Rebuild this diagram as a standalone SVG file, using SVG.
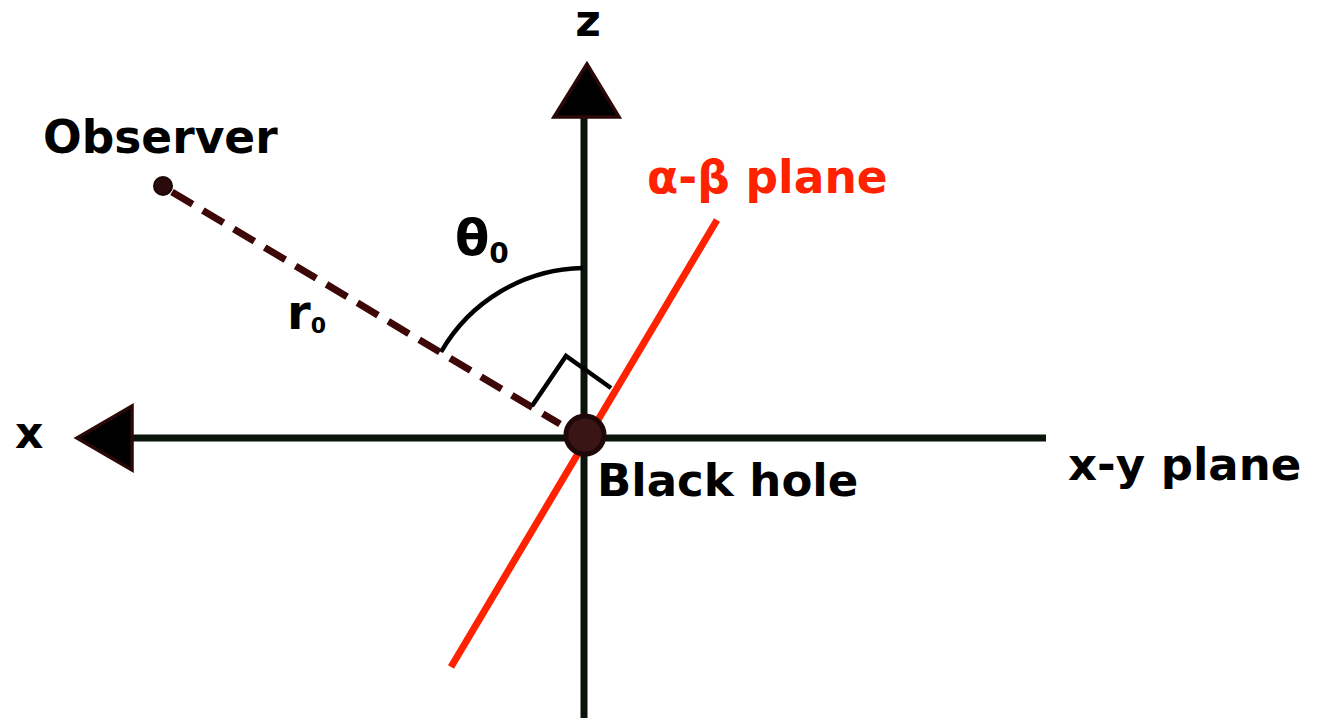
<svg xmlns="http://www.w3.org/2000/svg" width="1322" height="721" viewBox="0 0 1322 721">
<style>
.t{font-family:"DejaVu Sans",sans-serif;font-weight:bold;fill:#000}
.ax{stroke:#0b140b;stroke-width:7;fill:none}
.ah{fill:#000;stroke:#2a0808;stroke-width:3.5;stroke-linejoin:miter}
</style>
<rect width="1322" height="721" fill="#fff"/>
<g id="connectors">
<line class="ax" x1="584" y1="718" x2="584" y2="115"/>
<polygon class="ah" points="587,64 554,117 619,117"/>
<line class="ax" x1="1046" y1="438" x2="130" y2="438"/>
<polygon class="ah" points="77,438 132,406 132,470"/>
<line x1="451" y1="667" x2="717" y2="220" stroke="#ff2200" stroke-width="7"/>
<line x1="172" y1="192" x2="560" y2="424" stroke="#3d0707" stroke-width="7" stroke-dasharray="24,12"/>
<path d="M441,352 A167,167 0 0 1 583,268" fill="none" stroke="#000" stroke-width="4.5"/>
<polyline points="532,406 566,356 611,388" fill="none" stroke="#000" stroke-width="4.5"/>
</g>
<g id="observer">
<circle cx="163" cy="186" r="9" fill="#2a0a0a" stroke="#1a0505" stroke-width="2"/>
<text class="t" x="43" y="153" font-size="45.5">Observer</text>
</g>
<g id="blackhole">
<circle cx="585" cy="435" r="19" fill="#3a1515" stroke="#200808" stroke-width="5"/>
<text class="t" x="597" y="496" font-size="45">Black hole</text>
</g>
<g id="labels">
<text class="t" x="588" y="36" font-size="44" text-anchor="middle">z</text>
<text class="t" x="15" y="448" font-size="44">x</text>
<text class="t" x="1068" y="480" font-size="45">x-y plane</text>
<text class="t" x="647" y="193" font-size="45.5" style="fill:#ff2200">α-β plane</text>
<text class="t" x="455" y="255" font-size="50">θ<tspan font-size="28" dy="8">0</tspan></text>
<text class="t" x="287" y="329" font-size="48">r<tspan font-size="22" dy="4">0</tspan></text>
</g>
</svg>
